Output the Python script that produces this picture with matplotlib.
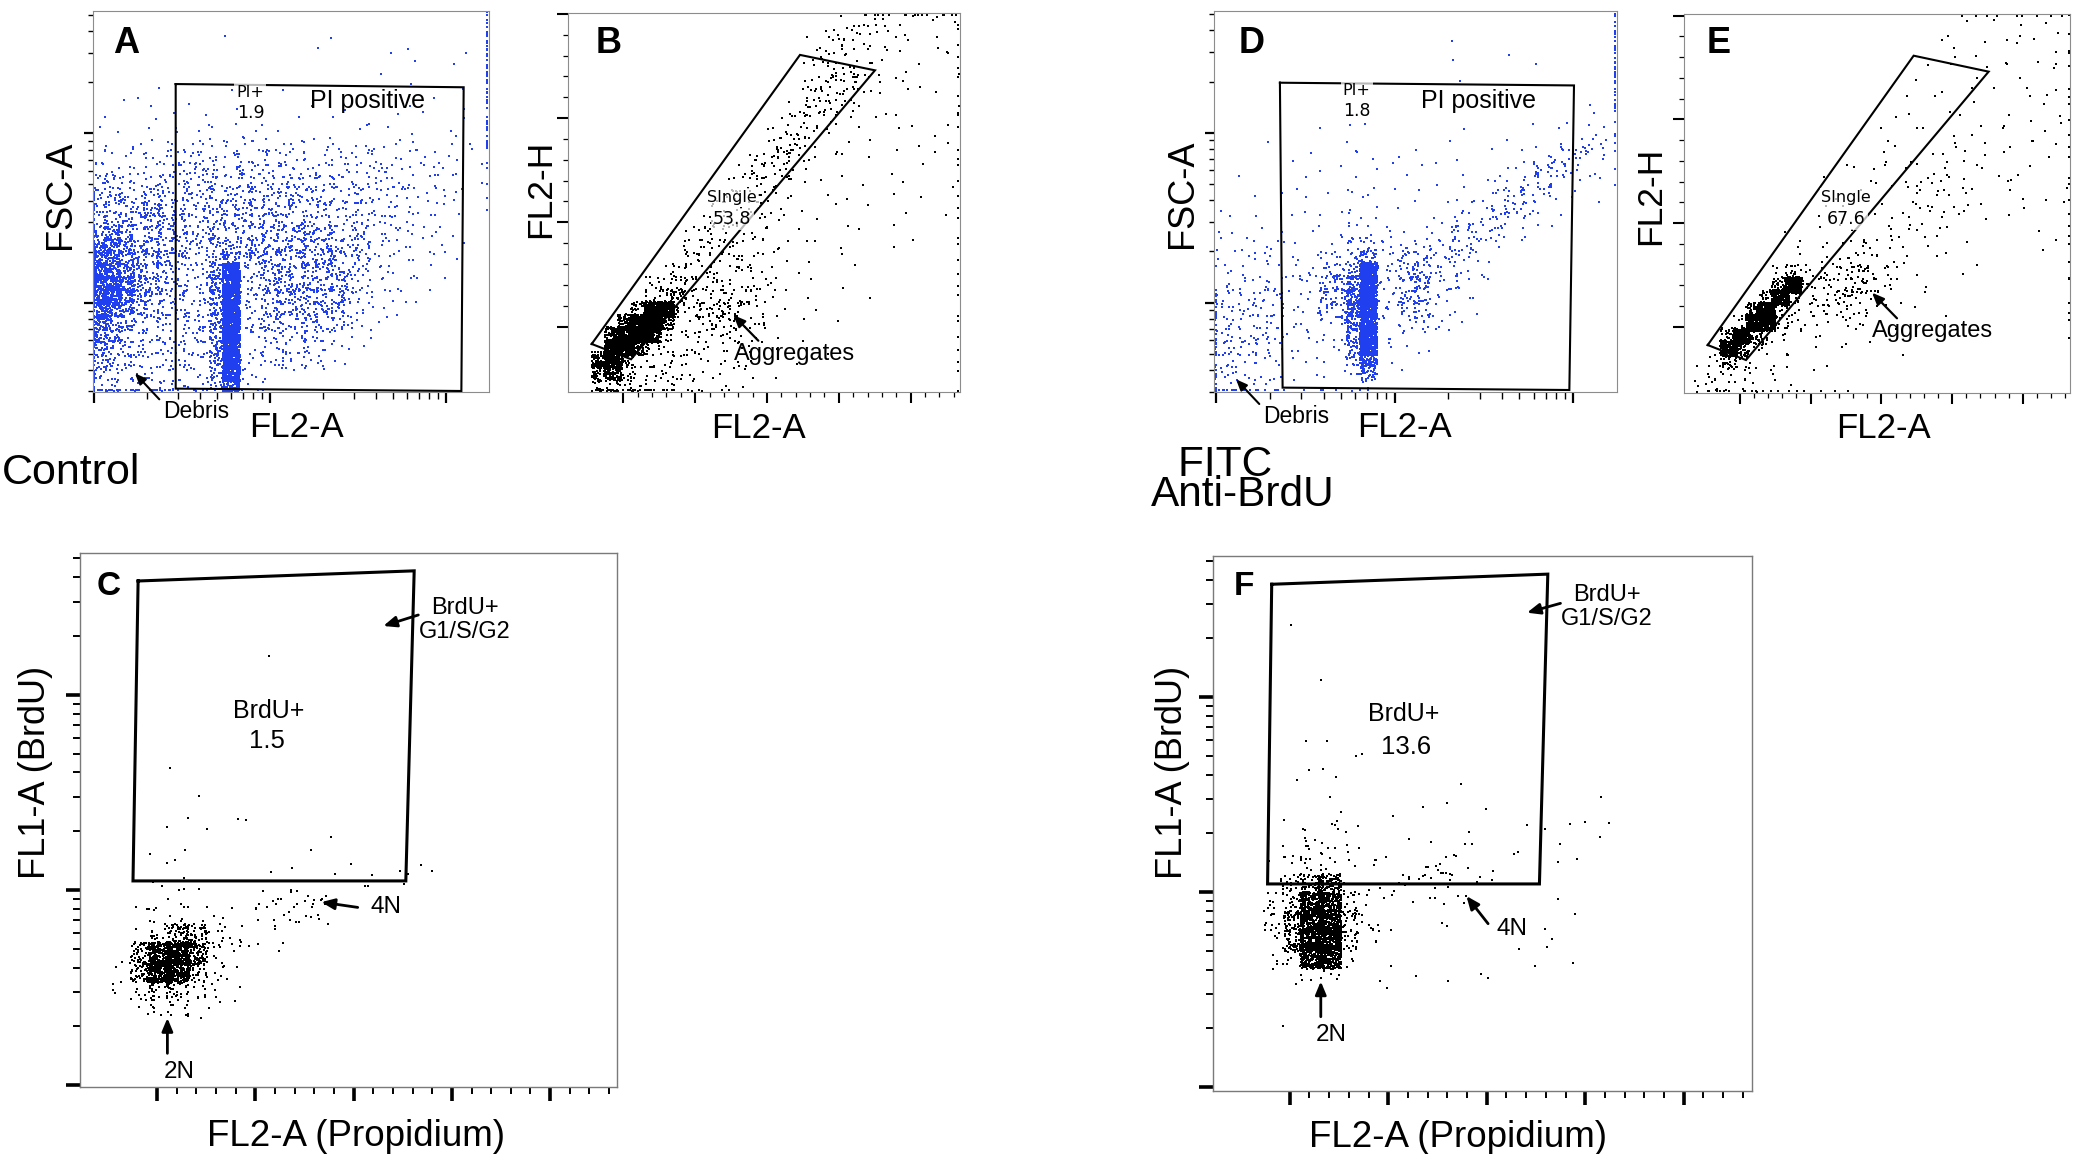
import numpy as np
import matplotlib
matplotlib.use("Agg")
import matplotlib.pyplot as plt
from matplotlib.ticker import FixedLocator, LogLocator

plt.rcParams["font.family"] = ["Liberation Sans", "DejaVu Sans"]

# ---------------------------------------------------------------- data
# event density: one character per cell (30 columns,
# rows from top to bottom); the character gives the number of events.
LEVEL_COUNTS = {".": 0, "1": 1, "2": 2, "3": 4, "4": 6, "5": 10,
                "6": 15, "7": 30, "8": 60, "9": 110, "X": 250}

A_GRID = [
    "..... ..... ..... ..... ..... .....",
    "..... ..... 1.... ..... ..... .....",
    "..... ..... ..... ...1. ..... .....",
    "..... ..... ..... .1... ..1.1 ...1.",
    "..... ..... ..... ..... ....1 ..1..",
    "..... 1.... ..... ..... .1..1 .....",
    "...1. ..... 1...1 ..... .1... 1..1.",
    "..1.1 ..1.. .1... .1.1. ....1 ...1.",
    ".1..1 .1.1. 1.1.. 1..1. 11.1. 1.1..",
    "1.1.1 .2.21 .21.1 .1.1. 1.1.1 .11..",
    "12121 22322 22222 22121 21212 1.11.",
    "22222 23333 33333 32322 22222 1211.",
    "33333 34444 44444 43333 33322 222.1",
    "43434 34444 44444 44443 33332 221.1",
    "55545 54455 55455 54444 43322 221..",
    "55556 65455 55555 55444 43322 211..",
    "66666 65455 55555 55444 43322 211..",
    "77666 65455 55556 66554 43222 111..",
    "88766 65456 65666 66655 43221 111..",
    "88776 65456 76666 66665 43221 111..",
    "98776 54447 X5566 66665 42211 11...",
    "99876 54447 X4466 66665 42211 1....",
    "99876 54447 X4466 66664 32111 .....",
    "88765 44447 X4456 66654 2211. .....",
    "87654 44447 X4455 55543 211.. .....",
    "77543 44447 X3444 44432 11... .....",
    "76543 43437 X3334 44321 1.... .....",
    "65443 33337 X3233 33211 ..... .....",
    "54433 33336 X2222 2.1.. ..... .....",
    "44333 33335 92.1. ..... ..... .....",
]
A_LEFT_EDGE = ".............." + "4444444444444444"
A_RIGHT_EDGE = "44444444444" + "11111" + ".............."
A_BOTTOM_EDGE = "444444" + "2222222" + "................."

D_GRID = [
    "..... ..... ..... ..... ..... .....",
    "..... ..... ..... ..... ..... .....",
    "..... ..... ..... ..1.. ..... .....",
    "..... ..... ..... ..... .1.1. .....",
    "..... ..... ..... ..1.. ..... .....",
    "..... ..... ..... ...1. ..... .....",
    "..... ..... ..... ..... ..... .....",
    "..... ..... ..... ..... ..... ..1..",
    "..... ..... 1.... ..... ..... .1.11",
    "..... ..1.. .1... ...1. ...1. 1.121",
    "...1. ....1 1.... 1.1.. .1.1. 12332",
    "..... 1.1.. 11.1. .1.1. 1.112 3432.",
    "..... ..1.1 .1.1. 1..1. .1234 4321.",
    ".1... 1.1.1 1.1.1 .1.1. 12344 3211.",
    "..1.1 .1.1. 21.1. 1.1.1 23443 21.1.",
    "1..1. .1.1. 21.1. 1.122 34432 1....",
    ".1.1. 1.1.1 22.1. 11234 4432. 1....",
    "11.11 1.1.2 33111 12344 3211. .....",
    "11212 11122 45223 33443 21... .....",
    "21212 11233 57335 54432 1.... .....",
    "22222 22255 7X336 63332 1.... .....",
    "22232 22266 8X336 63321 ..... .....",
    "33333 22266 8X336 62211 ..... .....",
    "33333 22255 8X335 52211 ..... .....",
    "33333 21233 8X224 4111. ..... .....",
    "33333 21122 7X222 211.. ..... .....",
    "43333 21122 7X111 11... ..... .....",
    "43332 11111 69.1. ..... ..... .....",
    "43222 1.111 57.1. ..... ..... .....",
    "32211 ..... 22... ..... ..... .....",
]
D_LEFT_EDGE = "......................" + "33333333"
D_RIGHT_EDGE = "44444444" + "111111" + "................"
D_BOTTOM_EDGE = "33333" + "1111111" + ".................."

B_GRID = [
    "..... ..... ..... ..... .1221 11211",
    "..... ..... ..... ....1 23321 21.1.",
    "..... ..... ..... ...13 33211 1..11",
    "..... ..... ..... ...22 32111 .1.1.",
    "..... ..... ..... ....3 44321 .1..1",
    "..... ..... ..... ...34 43211 1.1..",
    "..... ..... ..... ...34 4321. .1.1.",
    "..... ..... ..... ..344 321.1 1...1",
    "..... ..... ..... .2332 21.1. .1.1.",
    "..... ..... ..... 2332. 1.1.. 1..1.",
    "..... ..... ..... 3443. 21.1. .1..1",
    "..... ..... ....3 4432. 1..1. 1..1.",
    "..... ..... ...34 4321. .1..1 ..1..",
    "..... ..... ..333 221.1 ..1.. 1...1",
    "..... ..... ..333 221.1 .1..1 ..1..",
    "..... ..... .3333 22.1. 1.1.. .1...",
    "..... ..... 33322 21.1. .1..1 ....1",
    "..... ....3 33222 2.1.1 ..1.. .1...",
    "..... ....3 43322 21.1. 1.... 1....",
    "..... ...34 33332 21.1. .1... .....",
    "..... ..343 33332 2.1.. ..1.. .....",
    "..... .4553 33332 21.1. 1.... .....",
    "..... .5674 34443 21.1. ..1.. .....",
    "..... 7XX63 45543 21..1 ..... .....",
    "....9 XX833 45533 2.1.. 1.... .....",
    "...9X X9333 33322 1.1.. ..... .....",
    "...XX 83333 32221 .1... 1.... .....",
    "..9X7 33332 22211 ..1.. ..... .....",
    "..895 33322 21111 1.... ..... .....",
    "..664 33222 11.1. ..... ..... .....",
]
B_TOP_EDGE = "......................" + "22222222"
B_RIGHT_EDGE = "111111111111111111111111111111"
B_BOTTOM_EDGE = ".." + "444444" + "11111" + "................."

E_GRID = [
    "..... ..... ..... ..... .1..1 .1.1.",
    "..... ..... ..... ....1 1...1 .11.1",
    "..... ..... ..... ..... 1..1. 1...1",
    "..... ..... ..... ....1 1.1.. 1.1..",
    "..... ..... ..... ..... 1.11. 1..11",
    "..... ..... ..... ...1. 1.... 11..1",
    "..... ..... ..... ..1.1 ..1.1 .1.1.",
    "..... ..... ..... ..1.. 1.1.. 1.1.1",
    "..... ..... ..... .1.1. .1.11 ..1.1",
    "..... ..... ..... 1..1. 1.1.1 .11..",
    "..... ..... ..... 11... 11.1. 1.11.",
    "..... ..... ...1. 2.1.2 1211. 1..1.",
    "..... ..... ..1.1 1.121 2.1.1 1.1..",
    "..... ..... .1..2 1.222 121.1 1...1",
    "..... ..... .1.1. 1.112 21.1. 11.1.",
    "..... ..... 1.1.1 .1222 121.. .1..1",
    "..... ..... 1.1.. 11221 11.1. 1....",
    "..... ...1. 1.1.2 12111 1.1.. ..1..",
    "..... ...11 2.123 2111. 1.... ..1.1",
    "..... ..122 22343 221.1 ..1.. .....",
    "..... ..363 23454 21.1. .1... .....",
    "..... ..8X4 33554 32.1. ..... .....",
    "..... .7X53 34543 21.1. ..... .....",
    "..... 8X632 33332 1.1.. 1.... .....",
    "....5 XX431 22221 .1... ..... .....",
    "...7X 8331. 2.1.1 ..... ..... .....",
    "...X8 3211. 1.1.. ..1.. ..... .....",
    "..373 2211. .1... ..... ..... .....",
    ".2332 211.. 1.... ..... ..... .....",
    ".3322 21.1. ..... ..... ..... .....",
]
E_TOP_EDGE = "....................." + "111111111"
E_RIGHT_EDGE = "11111111111111111111111111" + "...."
E_BOTTOM_EDGE = "." + "22222222" + "1111" + "................."

BLANK = "..... ..... ..... ..... ..... ....."
C_GRID = [BLANK] * 5 + [
    "..... ..... 1.... ..... ..... .....",
] + [BLANK] * 5 + [
    "..... 1.... ..... ..... ..... .....",
    BLANK,
    "..... .1... ..... ..... ..... .....",
    "..... 1.... ..... ..... ..... .....",
    "..... 11.11 ..... ..... ..... .....",
    "..... 1.... ...11 ..... ..... .....",
    "....2 1.... .1..1 ...21 ..... .....",
    "....2 2.... 1...1 12.2. ..... .....",
    "....2 32..1 3443. ..... ..... .....",
    "...23 43222 2332. ..... ..... .....",
    "...46 88532 21.1. ..... ..... .....",
    "...8X X9421 .1... ..... ..... .....",
    "..38X X742. ..... ..... ..... .....",
    "..367 7531. ..... ..... ..... .....",
    "...34 4321. ..... ..... ..... .....",
    "....1 11... ..... ..... ..... .....",
] + [BLANK] * 3

F_GRID = [BLANK] * 3 + [
    "....1 ..... ..... ..... ..... .....",
    BLANK, BLANK,
    "..... 1.... ..... ..... ..... .....",
    BLANK, BLANK, BLANK,
    "..... 11... ..... ..... ..... .....",
    "..... 1111. ..... ..... ..... .....",
    "....1 .1... ...1. ..... ..... .....",
    "..... .1... ...1. ..... .1... .....",
    "...1. .1..1 .1... 1.... 11... .....",
    "....2 232.. ....1 ..111 11... .....",
    "...13 3321. 1.122 .11.1 1.... .....",
    "...24 44222 23432 1.... ..... .....",
    "...37 89422 22221 1.... ..... .....",
    "...47 XX632 11211 ....1 1.... .....",
    "...58 XX732 1.11. ..... ..... .....",
    "...38 XX73. ..... ...11 ..... .....",
    "...36 XX4.1 ..... .111. 1.... .....",
    "....2 431.1 .1.11 1.... ..... .....",
    "..... ....1 ..... ..... ..... .....",
    BLANK,
    "...1. ..... ..... ..... ..... .....",
] + [BLANK] * 3

# gate polygons (log10 values for log axes, plain values for linear axes)
GATE_A_LOGX = [1.462, 3.098, 3.085, 1.462]
GATE_A_LOGY = [5.291, 5.272, 3.480, 3.494]
GATE_D_LOGX = [1.358, 3.004, 2.978, 1.373]
GATE_D_LOGY = [5.294, 5.278, 3.486, 3.500]
GATE_B_X = [0.559, 3.459, 4.503, 1.107]
GATE_B_Y = [0.833, 3.606, 3.458, 0.686]
GATE_E_X = [0.548, 3.456, 4.515, 1.089]
GATE_E_Y = [0.823, 3.614, 3.460, 0.678]
GATE_C_X = [0.809, 3.617, 3.532, 0.757]
GATE_C_LOGY = [3.583, 3.635, 2.046, 2.046]
GATE_F_X = [0.817, 3.620, 3.535, 0.775]
GATE_F_LOGY = [3.579, 3.631, 2.042, 2.042]

GATE_PERCENT = {"A": "1.9", "B": "53.8", "C": "1.5", "D": "1.8", "E": "67.6", "F": "13.6"}

# ---------------------------------------------------------------- helpers
# events of a cell are spread over the cell with a deterministic quadratic
# Weyl sequence (equidistributed, no lattice pattern)
Q1, Q2, Q3, Q4 = np.sqrt(2.0), np.sqrt(3.0), np.sqrt(5.0), np.sqrt(7.0)
SPREAD = 1.3
_seq = [1]


def _uv(n):
    k = np.arange(_seq[0], _seq[0] + n, dtype=np.float64)
    _seq[0] += n
    u = (k * k * Q1 + k * Q2) % 1.0
    v = (k * k * Q3 + k * Q4) % 1.0
    return u, v


def _clean(s, n):
    return s.replace(" ", "").ljust(n, ".")[:n]


def grid_events(grid, ncols=30):
    rows = [_clean(r, ncols) for r in grid]
    nr = len(rows)
    fx, fy = [], []
    for r, row in enumerate(rows):
        for c, ch in enumerate(row):
            n = LEVEL_COUNTS[ch]
            if n:
                u, v = _uv(n)
                fx.append((c + 0.5 + (u - 0.5) * SPREAD) / ncols)
                fy.append(1.0 - (r + 0.5 + (v - 0.5) * SPREAD) / nr)
    return fx, fy


def edge_events(counts, side, n=30):
    s = _clean(counts, n)
    fx, fy = [], []
    for i, ch in enumerate(s):
        m = LEVEL_COUNTS[ch]
        if not m:
            continue
        u, _ = _uv(m)
        along = (i + u) / n
        if side == "left":
            fx.append(np.full(m, 0.004)); fy.append(1.0 - along)
        elif side == "right":
            fx.append(np.full(m, 0.996)); fy.append(1.0 - along)
        elif side == "bottom":
            fx.append(along); fy.append(np.full(m, 0.005))
        else:
            fx.append(along); fy.append(np.full(m, 0.995))
    return fx, fy


def to_data(f, rng, log):
    v = rng[0] + np.asarray(f) * (rng[1] - rng[0])
    return 10.0 ** v if log else v


W, H = 2077, 1154
fig = plt.figure(figsize=(W / 100, H / 100), dpi=100)

LIN_MAJOR_X = [1, 2, 3, 4, 5]
LIN_MINOR_X = [round(1 + 0.2 * i, 1) for i in range(1, 24) if i % 5]
LIN_MAJOR_Y = [1, 2, 3, 4]
LIN_MINOR_Y = [round(1 + 0.2 * i, 1) for i in range(1, 15) if i % 5]


def make_panel(rect, xr, yr, xlog, ylog, grid, edges, color, dot, kind):
    ax = fig.add_axes(rect)
    if xlog:
        ax.set_xscale("log")
    if ylog:
        ax.set_yscale("log")
    ax.set_xlim(to_data(0, xr, xlog), to_data(1, xr, xlog))
    ax.set_ylim(to_data(0, yr, ylog), to_data(1, yr, ylog))

    fx, fy = grid_events(grid)
    for counts, side in edges:
        ex, ey = edge_events(counts, side)
        fx += ex
        fy += ey
    fx = np.clip(np.concatenate(fx), 0.002, 0.998)
    fy = np.clip(np.concatenate(fy), 0.003, 0.997)
    ax.scatter(to_data(fx, xr, xlog), to_data(fy, yr, ylog), s=dot, marker="s",
               c=color, linewidths=0, zorder=2)

    for axis, log, maj, mnr in ((ax.xaxis, xlog, LIN_MAJOR_X, LIN_MINOR_X),
                                (ax.yaxis, ylog, LIN_MAJOR_Y, LIN_MINOR_Y)):
        if log:
            axis.set_major_locator(LogLocator(base=10, numticks=20))
            axis.set_minor_locator(LogLocator(base=10, subs=np.arange(2, 10), numticks=20))
        else:
            axis.set_major_locator(FixedLocator(maj))
            axis.set_minor_locator(FixedLocator(mnr))

    if kind == "top_log":
        ax.tick_params(axis="x", which="major", length=7.7, width=1.6)
        ax.tick_params(axis="x", which="minor", length=4.8, width=1.0)
        ax.tick_params(axis="y", which="major", length=6.2, width=1.6)
        ax.tick_params(axis="y", which="minor", length=3.8, width=1.0)
        spine_c, spine_w = "#8c8c8c", 0.8
    elif kind == "top_lin":
        ax.tick_params(axis="both", which="major", length=7.8, width=1.5)
        ax.tick_params(axis="both", which="minor", length=3.9, width=0.9)
        spine_c, spine_w = "#8c8c8c", 0.8
    else:
        ax.tick_params(axis="both", which="major", length=10.4, width=2.6)
        ax.tick_params(axis="both", which="minor", length=5.3, width=1.4)
        spine_c, spine_w = "#7a7a7a", 1.0
    ax.tick_params(axis="both", which="both", direction="out", colors="black",
                   top=False, right=False, labelbottom=False, labelleft=False)
    for sp in ax.spines.values():
        sp.set_color(spine_c)
        sp.set_linewidth(spine_w)
    return ax


def draw_gate(ax, gx, gy, lw):
    gx = list(gx) + [gx[0]]
    gy = list(gy) + [gy[0]]
    ax.plot(gx, gy, color="black", lw=lw, zorder=3, solid_joinstyle="miter")


def set_labels(ax, xlabel, xpos, ylabel, ypos, size):
    ax.set_xlabel(xlabel, fontsize=size[0])
    ax.xaxis.set_label_coords(*xpos)
    ax.xaxis.label.set_va("baseline")
    ax.xaxis.label.set_ha("center")
    ax.set_ylabel(ylabel, fontsize=size[1])
    ax.yaxis.set_label_coords(*ypos)
    ax.yaxis.label.set_rotation_mode("anchor")
    ax.yaxis.label.set_va("baseline")
    ax.yaxis.label.set_ha("center")


def txt(ax, x, y, s, size, family=None, weight="normal", ha="center", bbox=None):
    kw = dict(transform=ax.transAxes, fontsize=size, ha=ha, va="baseline",
              fontweight=weight, zorder=5, color="black", clip_on=False)
    if family:
        kw["family"] = family
    if bbox:
        kw["bbox"] = bbox
    ax.text(x, y, s, **kw)


def arrow(ax, tail, tip, lw=1.6, ms=12):
    ax.annotate("", xy=tip, xytext=tail, xycoords="axes fraction",
                textcoords="axes fraction", annotation_clip=False,
                arrowprops=dict(arrowstyle="-|>,head_length=0.6,head_width=0.25",
                                color="black", lw=lw, shrinkA=0, shrinkB=0,
                                mutation_scale=ms), zorder=5)


LUCIDA = ["DejaVu Sans"]
HALO = dict(boxstyle="square,pad=0.12", fc="white", ec="none", alpha=0.72)
BLUE = "#2040f0"

# ---------------------------------------------------------------- panel A
axA = make_panel([0.04463, 0.66031, 0.19081, 0.33016], (0.9905, 3.242), (3.474, 5.722),
                 True, True, A_GRID,
                 [(A_LEFT_EDGE, "left"), (A_RIGHT_EDGE, "right"), (A_BOTTOM_EDGE, "bottom")],
                 BLUE, 2.1, "top_log")
draw_gate(axA, 10.0 ** np.array(GATE_A_LOGX), 10.0 ** np.array(GATE_A_LOGY), 1.5)
set_labels(axA, "FL2-A", (0.5148, -0.1173), "FSC-A", (-0.0573, 0.5171), (25, 26))
txt(axA, 0.0512, 0.8898, "A", 26, weight="bold", ha="left")
txt(axA, 0.397, 0.774, "PI+", 11.5, family=LUCIDA, bbox=HALO)
txt(axA, 0.3994, 0.7192, GATE_PERCENT["A"], 12.5, family=LUCIDA)
txt(axA, 0.6934, 0.7441, "PI positive", 18)
txt(axA, 0.2607, -0.0690, "Debris", 16.5)
arrow(axA, (0.1681, -0.0192), (0.1067, 0.0491), lw=1.5, ms=11)

# ---------------------------------------------------------------- panel B
axB = make_panel([0.27333, 0.66057, 0.18888, 0.32790], (0.225, 5.687), (0.375, 4.005),
                 False, False, B_GRID,
                 [(B_TOP_EDGE, "top"), (B_RIGHT_EDGE, "right"), (B_BOTTOM_EDGE, "bottom")],
                 "black", 2.1, "top_lin")
draw_gate(axB, GATE_B_X, GATE_B_Y, 1.5)
set_labels(axB, "FL2-A", (0.4859, -0.1216), "FL2-H", (-0.0451, 0.5357), (25, 25.5))
txt(axB, 0.0721, 0.8959, "B", 26, weight="bold", ha="left")
txt(axB, 0.4196, 0.5021, "SIngle", 11.5, family=LUCIDA, bbox=HALO)
txt(axB, 0.4196, 0.4432, GATE_PERCENT["B"], 12.5, family=LUCIDA, bbox=HALO)
txt(axB, 0.5769, 0.0838, "Aggregates", 17)
arrow(axB, (0.4859, 0.1348), (0.4221, 0.2027))

# ---------------------------------------------------------------- panel D
axD = make_panel([0.58464, 0.66057, 0.19374, 0.32990], (0.9907, 3.243), (3.476, 5.716),
                 True, True, D_GRID,
                 [(D_LEFT_EDGE, "left"), (D_RIGHT_EDGE, "right"), (D_BOTTOM_EDGE, "bottom")],
                 BLUE, 2.1, "top_log")
draw_gate(axD, 10.0 ** np.array(GATE_D_LOGX), 10.0 ** np.array(GATE_D_LOGY), 1.5)
set_labels(axD, "FL2-A", (0.4714, -0.1182), "FSC-A", (-0.0562, 0.5193), (25, 26))
txt(axD, 0.0596, 0.8889, "D", 26, weight="bold", ha="left")
txt(axD, 0.3539, 0.7794, "PI+", 11.5, family=LUCIDA, bbox=HALO)
txt(axD, 0.3546, 0.7242, GATE_PERCENT["D"], 12.5, family=LUCIDA)
txt(axD, 0.6578, 0.7444, "PI positive", 18)
txt(axD, 0.2025, -0.0814, "Debris", 16.5)
arrow(axD, (0.1118, -0.0323), (0.0539, 0.0326), lw=1.5, ms=11)

# ---------------------------------------------------------------- panel E
axE = make_panel([0.81064, 0.65970, 0.18613, 0.32816], (0.209, 5.668), (0.363, 4.016),
                 False, False, E_GRID,
                 [(E_TOP_EDGE, "top"), (E_RIGHT_EDGE, "right"), (E_BOTTOM_EDGE, "bottom")],
                 "black", 2.1, "top_lin")
draw_gate(axE, GATE_E_X, GATE_E_Y, 1.5)
set_labels(axE, "FL2-A", (0.5173, -0.1204), "FL2-H", (-0.0605, 0.5202), (25, 25.5))
txt(axE, 0.0603, 0.8962, "E", 26, weight="bold", ha="left")
txt(axE, 0.4206, 0.5044, "SIngle", 11.5, family=LUCIDA, bbox=HALO)
txt(axE, 0.4206, 0.4455, GATE_PERCENT["E"], 12.5, family=LUCIDA, bbox=HALO)
txt(axE, 0.6443, 0.1463, "Aggregates", 17)
arrow(axE, (0.5517, 0.1965), (0.4871, 0.2641))

# ---------------------------------------------------------------- panel C
axC = make_panel([0.03828, 0.05806, 0.25879, 0.46317], (0.213, 5.68), (0.99, 3.729),
                 False, True, C_GRID, [], "black", 4.0, "bottom")
draw_gate(axC, GATE_C_X, 10.0 ** np.array(GATE_C_LOGY), 2.2)
set_labels(axC, "FL2-A (Propidium)", (0.5144, -0.1104), "FL1-A (BrdU)", (-0.0651, 0.5893),
           (26.5, 26))
txt(axC, 0.0326, 0.9201, "C", 24, weight="bold", ha="left")
txt(axC, 0.3513, 0.6909, "BrdU+", 18)
txt(axC, 0.3494, 0.6337, GATE_PERCENT["C"], 18.5)
txt(axC, 0.7172, 0.8844, "BrdU+", 17)
txt(axC, 0.7172, 0.8406, "G1/S/G2", 17)
arrow(axC, (0.6303, 0.8831), (0.5652, 0.8625), lw=2.0, ms=13)
txt(axC, 0.5702, 0.3261, "4N", 17.5)
arrow(axC, (0.5176, 0.3360), (0.4499, 0.3459), lw=2.0, ms=13)
txt(axC, 0.1849, 0.0174, "2N", 17.5)
arrow(axC, (0.1635, 0.0630), (0.1635, 0.1291), lw=2.0, ms=13)

# ---------------------------------------------------------------- panel F
axF = make_panel([0.58411, 0.05459, 0.25927, 0.46378], (0.223, 5.69), (0.98, 3.725),
                 False, True, F_GRID, [], "black", 4.0, "bottom")
draw_gate(axF, GATE_F_X, 10.0 ** np.array(GATE_F_LOGY), 2.2)
set_labels(axF, "FL2-A (Propidium)", (0.4539, -0.1046), "FL1-A (BrdU)", (-0.0574, 0.5960),
           (26.5, 26))
txt(axF, 0.0388, 0.9264, "F", 24, weight="bold", ha="left")
txt(axF, 0.3536, 0.6910, "BrdU+", 18)
txt(axF, 0.3575, 0.6302, GATE_PERCENT["F"], 18.5)
txt(axF, 0.7313, 0.9150, "BrdU+", 17)
txt(axF, 0.7313, 0.8709, "G1/S/G2", 17)
arrow(axF, (0.6449, 0.9112), (0.5827, 0.8937), lw=2.0, ms=13)
txt(axF, 0.5545, 0.2922, "4N", 17.5)
arrow(axF, (0.5105, 0.3126), (0.4702, 0.3643), lw=2.0, ms=13)
txt(axF, 0.2195, 0.0925, "2N", 17.5)
arrow(axF, (0.1998, 0.1388), (0.1998, 0.2048), lw=2.0, ms=13)

# ---------------------------------------------------------------- group titles
fig.text(0.00096, 0.58016, "Control", fontsize=31, ha="left", va="baseline")
fig.text(1243 / W, 1 - 506 / H, "FITC   \nAnti-BrdU", fontsize=30.5, ha="center",
         va="baseline", multialignment="center", linespacing=0.67)

fig.savefig("out.png", dpi=100)
